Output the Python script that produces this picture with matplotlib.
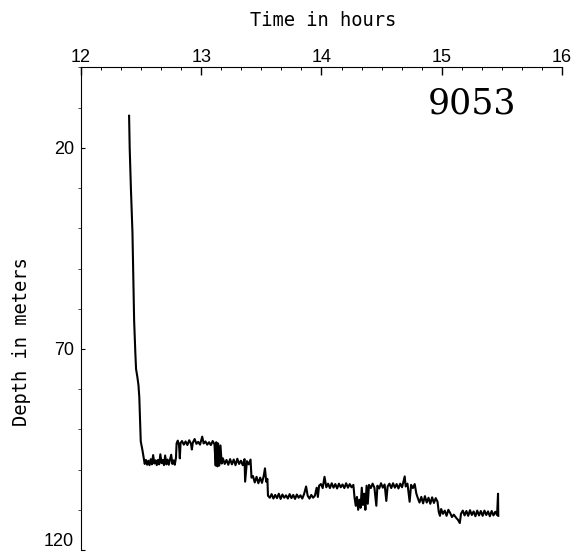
import matplotlib
matplotlib.use('Agg')
import matplotlib.pyplot as plt
from matplotlib.ticker import MultipleLocator
import numpy as np

# depth trace of dive 9053 (hours, metres)
descent_hours = [12.400, 12.405, 12.415, 12.428, 12.442, 12.452, 12.458, 12.469,
                 12.478, 12.485, 12.497, 12.510, 12.520]
descent_depth = [12.0, 20.0, 30.0, 41.0, 63.0, 71.0, 75.0, 77.0,
                 79.0, 82.0, 93.0, 95.0, 96.8]

bottom_hours = [
    12.530, 12.540, 12.550, 12.560, 12.570, 12.580, 12.590, 12.600, 12.610, 12.620,
    12.630, 12.640, 12.650, 12.660, 12.670, 12.680, 12.690, 12.700, 12.710, 12.720,
    12.730, 12.740, 12.750, 12.760, 12.770, 12.780, 12.790, 12.795,
    12.805, 12.815, 12.822, 12.828, 12.840, 12.855, 12.870, 12.885, 12.900, 12.915,
    12.922, 12.930, 12.945, 12.960, 12.975, 12.990, 13.008, 13.020, 13.035, 13.050,
    13.065, 13.080, 13.095, 13.110, 13.120, 13.125, 13.135, 13.140, 13.150, 13.160,
    13.170,
    13.180, 13.195, 13.210, 13.225, 13.240, 13.255, 13.270, 13.285, 13.300, 13.315,
    13.330, 13.345, 13.360, 13.365, 13.380, 13.395, 13.410, 13.418,
    13.430, 13.445, 13.460, 13.475, 13.490, 13.505, 13.520, 13.530, 13.540, 13.550,
    13.555,
    13.570, 13.585, 13.600, 13.615, 13.630, 13.645, 13.660, 13.675, 13.690, 13.705,
    13.720, 13.735, 13.750, 13.765, 13.780, 13.795, 13.810, 13.825, 13.840, 13.855,
    13.872, 13.885, 13.900, 13.915, 13.930, 13.945, 13.960, 13.970, 13.980,
    13.995, 14.010, 14.025, 14.040, 14.055, 14.070, 14.085, 14.100, 14.115, 14.130,
    14.145, 14.160, 14.175, 14.190, 14.205, 14.220, 14.235, 14.250, 14.265, 14.275,
    14.285, 14.295, 14.305, 14.315, 14.325, 14.335, 14.345, 14.355, 14.365, 14.375,
    14.385,
    14.395, 14.410, 14.425, 14.440, 14.456, 14.465, 14.480, 14.495, 14.510, 14.525,
    14.539, 14.550, 14.565, 14.580, 14.595, 14.610, 14.625, 14.640, 14.655, 14.670,
    14.692, 14.700, 14.715, 14.733, 14.745, 14.760, 14.775, 14.789,
    14.800, 14.815, 14.830, 14.845, 14.860, 14.875, 14.890, 14.905, 14.920, 14.935,
    14.950, 14.965,
    14.975, 14.985, 14.995, 15.010, 15.025, 15.040, 15.055, 15.070, 15.085, 15.100,
    15.120, 15.135, 15.150, 15.160,
    15.175, 15.190, 15.205, 15.220, 15.235, 15.250, 15.265, 15.280, 15.295, 15.310,
    15.325, 15.340, 15.355, 15.370, 15.385, 15.400, 15.415, 15.430, 15.445, 15.460,
    15.468, 15.470,
]
bottom_depth = [
    98.6, 97.6, 98.8, 97.8, 98.9, 97.4, 98.7, 96.4, 98.5, 97.7,
    98.9, 97.6, 98.7, 96.2, 98.4, 97.6, 98.9, 96.5, 98.7, 97.5,
    98.8, 97.6, 96.3, 98.6, 97.7, 98.8, 97.0, 93.5,
    92.8, 93.9, 97.2, 93.4, 92.9, 93.8, 93.0, 93.9, 92.7, 93.6,
    95.0, 93.3, 92.4, 93.6, 93.1, 93.8, 91.8, 93.5, 93.0, 93.8,
    93.2, 93.9, 92.9, 93.7, 99.0, 93.2, 99.2, 93.5, 99.0, 94.0,
    98.5,
    97.2, 98.6, 97.6, 98.8, 97.4, 98.7, 97.5, 98.9, 97.3, 98.6,
    97.8, 98.9, 97.4, 103.0, 97.9, 98.7, 97.5, 102.0,
    101.6, 103.2, 101.8, 103.4, 102.0, 103.3, 101.5, 99.7, 103.0, 102.3,
    106.5,
    107.0, 106.1, 107.2, 106.3, 107.1, 106.0, 107.3, 106.2, 107.0, 106.4,
    107.2, 106.1, 107.1, 106.3, 107.3, 106.2, 107.0, 106.4, 107.2, 106.1,
    104.2, 106.5, 107.2, 106.3, 107.0, 106.5, 104.5, 106.8, 104.0,
    103.6, 104.6, 101.8, 104.4, 103.5, 104.6, 103.4, 104.5, 103.6, 104.7,
    103.5, 104.4, 103.7, 104.6, 103.4, 104.5, 103.6, 104.4, 103.8, 107.0,
    109.0, 106.8, 110.0, 107.5, 109.5, 104.5, 108.8, 106.0, 110.0, 104.0,
    108.5,
    103.8, 104.6, 103.5, 104.5, 109.0, 104.0, 104.7, 103.4, 104.5, 103.7,
    107.8, 104.2, 103.5, 104.6, 103.4, 104.5, 103.6, 104.7, 103.5, 104.4,
    101.7, 104.2, 103.5, 108.0, 103.8, 104.6, 103.6, 106.0,
    107.0, 108.2, 106.8, 108.4, 106.6, 108.2, 107.0, 108.5, 106.9, 108.3,
    107.1, 108.0,
    110.5, 111.5, 109.8, 111.0, 110.2, 111.5, 110.0, 110.8, 111.8, 111.2,
    112.0, 112.5, 113.3, 111.0,
    110.2, 111.4, 110.3, 111.5, 110.1, 111.3, 110.4, 111.6, 110.2, 111.4,
    110.3, 111.5, 110.2, 111.3, 110.4, 111.6, 110.3, 111.4, 110.5, 111.3,
    106.0, 111.5,
]

x_ticks = [12, 13, 14, 15, 16]
y_ticks = [20, 70, 120]
dive_id = '9053'

hours = np.array(descent_hours + bottom_hours)
depth = np.array(descent_depth + bottom_depth)

fig = plt.figure(figsize=(5.76, 5.55), dpi=100)
ax = fig.add_axes([0.1406, 0.0090, 0.8351, 0.8694])

ax.plot(hours, depth, color='black', lw=1.5)

ax.set_xlim(12, 16)
ax.set_ylim(120, 0)

# axis on top and left only
ax.spines['right'].set_visible(False)
ax.spines['bottom'].set_visible(False)
ax.spines['top'].set_linewidth(0.8)
ax.spines['left'].set_linewidth(0.8)
ax.xaxis.tick_top()

ax.set_xticks(x_ticks)
ax.set_yticks(y_ticks)
ax.xaxis.set_minor_locator(MultipleLocator(1 / 6))
ax.yaxis.set_minor_locator(MultipleLocator(10))

tick_font = {'family': 'Liberation Sans', 'size': 13}
ax.set_xticklabels([str(t) for t in x_ticks], fontdict=tick_font)
ax.set_yticklabels([str(t) for t in y_ticks], fontdict=tick_font)
# the lowest label sits right at the bottom edge, as in the original
ax.get_yticklabels()[-1].set_verticalalignment('bottom')

ax.tick_params(axis='x', which='major', direction='in', length=6, width=1.0, pad=1)
ax.tick_params(axis='x', which='minor', direction='in', length=2, width=0.7)
ax.tick_params(axis='y', which='major', direction='in', length=3, width=0.8, pad=5)
ax.tick_params(axis='y', which='minor', direction='out', length=2, width=0.5)

fig.text(323 / 576, 1 - 20 / 555, 'Time in hours', ha='center', va='center',
         family='DejaVu Sans Mono', fontsize=13.5)
fig.text(22 / 576, 1 - 342 / 555, 'Depth in meters', ha='center', va='center',
         rotation=90, family='DejaVu Sans Mono', fontsize=13.5)

ax.text(15.25, 9.0, dive_id, ha='center', va='center',
        family='DejaVu Serif', fontsize=25)

fig.savefig('out.png', dpi=100)
